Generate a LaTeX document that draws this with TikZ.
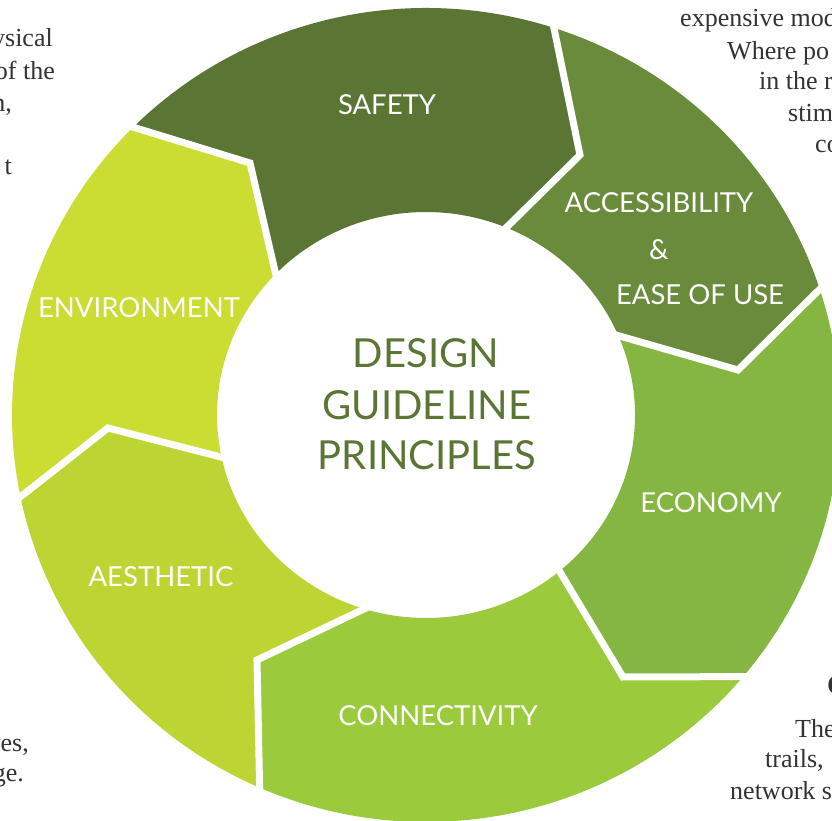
\documentclass[tikz,border=0pt]{standalone}
\usepackage{fontspec}
\usepackage{xcolor}
\usepackage{tikz}
\newfontfamily\gillfont{Lato}
\newfontfamily\pagefont{Liberation Serif}

\definecolor{safetygreen}{HTML}{5B7535}
\definecolor{accessgreen}{HTML}{6A8B3B}
\definecolor{economygreen}{HTML}{84B641}
\definecolor{connectgreen}{HTML}{9BCA3C}
\definecolor{aestheticgreen}{HTML}{BCD533}
\definecolor{envgreen}{HTML}{CBDC32}
\definecolor{pagegray}{HTML}{333333}

\tikzset{
	seglabel/.style={text=white, font=\gillfont\fontsize{27.5}{31}\selectfont, anchor=base, inner sep=0pt},
	hubtext/.style={text=safetygreen, font=\gillfont\fontsize{40}{46}\selectfont, anchor=base, inner sep=0pt},
	gap/.style={white, line width=7pt, line join=miter, shorten <=-8pt, shorten >=-8pt},
	pagetext/.style={text=pagegray, font=\pagefont\fontsize{26}{31}\selectfont, inner sep=0pt}
}

\begin{document}
\begin{tikzpicture}[x=1pt, y=1pt]
		%page frame
		\useasboundingbox (0,0) rectangle (832,821);
		\fill [white] (0,0) rectangle (832,821);
		
		%centre and radii of the ring
		\coordinate (O) at (426,406);
		\def\cx{426};
		\def\cy{406};
		\def\rxi{209};
		\def\ryi{203};
		\def\rxo{414};
		\def\ryo{407};
		
		%boundaries: inner angle, outer angle, tip
		\foreach \n/\ai/\ao/\tx/\ty in {1/136/135/250/658, 2/67.4/72/580/666, 3/23/18/738/451, 4/-50.3/-40/623/144, 5/-107.2/-113.7/257/161, 6/192/191.6/108/393}{
			\coordinate (b\n i) at ({\cx+\rxi*cos(\ai)},{\cy+\ryi*sin(\ai)});
			\coordinate (b\n o) at ({\cx+\rxo*cos(\ao)},{\cy+\ryo*sin(\ao)});
			\coordinate (b\n t) at (\tx,\ty);
		}
		
		%segments
		\fill [safetygreen] (b1o) -- (b1t) -- (b1i) arc [start angle=136, end angle=67.4, x radius=\rxi, y radius=\ryi] -- (b2t) -- (b2o) arc [start angle=72, end angle=135, x radius=\rxo, y radius=\ryo] -- cycle;
		\fill [accessgreen] (b2o) -- (b2t) -- (b2i) arc [start angle=67.4, end angle=23, x radius=\rxi, y radius=\ryi] -- (b3t) -- (b3o) arc [start angle=18, end angle=72, x radius=\rxo, y radius=\ryo] -- cycle;
		\fill [economygreen] (b3o) -- (b3t) -- (b3i) arc [start angle=23, end angle=-50.3, x radius=\rxi, y radius=\ryi] -- (b4t) -- (b4o) arc [start angle=-40, end angle=18, x radius=\rxo, y radius=\ryo] -- cycle;
		\fill [connectgreen] (b4o) -- (b4t) -- (b4i) arc [start angle=-50.3, end angle=-107.2, x radius=\rxi, y radius=\ryi] -- (b5t) -- (b5o) arc [start angle=-113.7, end angle=-40, x radius=\rxo, y radius=\ryo] -- cycle;
		\fill [aestheticgreen] (b5o) -- (b5t) -- (b5i) arc [start angle=-107.2, end angle=-168, x radius=\rxi, y radius=\ryi] -- (b6t) -- (b6o) arc [start angle=-168.4, end angle=-113.7, x radius=\rxo, y radius=\ryo] -- cycle;
		\fill [envgreen] (b6o) -- (b6t) -- (b6i) arc [start angle=192, end angle=136, x radius=\rxi, y radius=\ryi] -- (b1t) -- (b1o) arc [start angle=135, end angle=191.6, x radius=\rxo, y radius=\ryo] -- cycle;
		
		%white gaps
		\foreach \n in {1,...,6}
			\draw [gap] (b\n o) -- (b\n t) -- (b\n i);
		
		%segment labels
		\node [seglabel] (safety) at (387,706) {SAFETY};
		\node [seglabel] (access) at (659,608) {ACCESSIBILITY};
		\node [seglabel] (amp) at (659,561) {\&};
		\node [seglabel] (ease) at (700,516) {EASE OF USE};
		\node [seglabel] (economy) at (711,308) {ECONOMY};
		\node [seglabel] (connect) at (438,95) {CONNECTIVITY};
		\node [seglabel] (aesthetic) at (161,234) {AESTHETIC};
		\node [seglabel] (environment) at (139,503) {ENVIRONMENT};
		
		%hub
		\node [hubtext] (design) at (426,453) {DESIGN};
		\node [hubtext] (guideline) at (427,401) {GUIDELINE};
		\node [hubtext] (principles) at (427,351) {PRINCIPLES};
		
		%page text round the figure
		\node [pagetext, anchor=base east] (tl1) at (53,774) {ysical};
		\node [pagetext, anchor=base east] (tl2) at (55,741) {of the};
		\node [pagetext, anchor=base east] (tl3) at (12,709) {n,};
		\node [pagetext, anchor=base east] (tl4) at (12,646) {t};
		
		\node [pagetext, anchor=base west] (tr1) at (680,794) {expensive mod};
		\node [pagetext, anchor=base west] (tr2) at (727,761) {Where po};
		\node [pagetext, anchor=base west] (tr3) at (759,731) {in the r};
		\node [pagetext, anchor=base west] (tr4) at (788,699) {stim};
		\node [pagetext, anchor=base west] (tr5) at (815,668) {co};
		
		\node [pagetext, anchor=base west, font=\pagefont\bfseries\fontsize{28}{31}\selectfont] (br0) at (827,126) {C};
		\node [pagetext, anchor=base west] (br1) at (795,83) {The};
		\node [pagetext, anchor=base west] (br2) at (765,53) {trails,};
		\node [pagetext, anchor=base west] (br3) at (730,21) {network s};
		
		\node [pagetext, anchor=base east] (bl1) at (29,69) {ves,};
		\node [pagetext, anchor=base east] (bl2) at (24,39) {ge.};
	\end{tikzpicture}
\end{document}
